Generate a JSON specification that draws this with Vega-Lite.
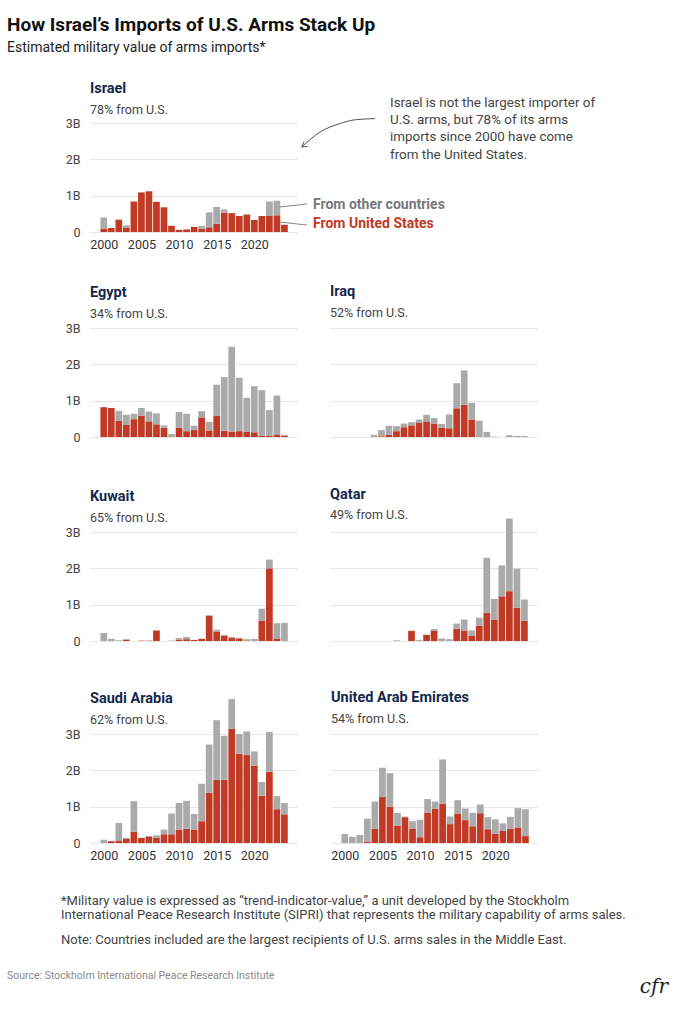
{
  "$schema": "https://vega.github.io/schema/vega-lite/v6.json",
  "padding": {"left": 7, "top": 15, "right": 5, "bottom": 5},
  "background": "white",
  "config": {
    "font": "Roboto",
    "view": {"stroke": null},
    "axis": {"labelFont": "Roboto"},
    "title": {"font": "Roboto", "subtitleFont": "Roboto"}
  },
  "datasets": {
    "arms": [
      {"country": "Israel", "year": 2000, "United States": 0.09, "Other countries": 0.31},
      {"country": "Israel", "year": 2001, "United States": 0.11, "Other countries": 0},
      {"country": "Israel", "year": 2002, "United States": 0.34, "Other countries": 0},
      {"country": "Israel", "year": 2003, "United States": 0.11, "Other countries": 0.07},
      {"country": "Israel", "year": 2004, "United States": 0.84, "Other countries": 0},
      {"country": "Israel", "year": 2005, "United States": 1.09, "Other countries": 0},
      {"country": "Israel", "year": 2006, "United States": 1.12, "Other countries": 0},
      {"country": "Israel", "year": 2007, "United States": 0.83, "Other countries": 0},
      {"country": "Israel", "year": 2008, "United States": 0.68, "Other countries": 0},
      {"country": "Israel", "year": 2009, "United States": 0.17, "Other countries": 0},
      {"country": "Israel", "year": 2010, "United States": 0.06, "Other countries": 0},
      {"country": "Israel", "year": 2011, "United States": 0.07, "Other countries": 0},
      {"country": "Israel", "year": 2012, "United States": 0.14, "Other countries": 0},
      {"country": "Israel", "year": 2013, "United States": 0.09, "Other countries": 0.08},
      {"country": "Israel", "year": 2014, "United States": 0.13, "Other countries": 0.41},
      {"country": "Israel", "year": 2015, "United States": 0.23, "Other countries": 0.46},
      {"country": "Israel", "year": 2016, "United States": 0.53, "Other countries": 0.09},
      {"country": "Israel", "year": 2017, "United States": 0.52, "Other countries": 0},
      {"country": "Israel", "year": 2018, "United States": 0.44, "Other countries": 0},
      {"country": "Israel", "year": 2019, "United States": 0.48, "Other countries": 0},
      {"country": "Israel", "year": 2020, "United States": 0.33, "Other countries": 0},
      {"country": "Israel", "year": 2021, "United States": 0.44, "Other countries": 0},
      {"country": "Israel", "year": 2022, "United States": 0.44, "Other countries": 0.40},
      {"country": "Israel", "year": 2023, "United States": 0.46, "Other countries": 0.40},
      {"country": "Israel", "year": 2024, "United States": 0.20, "Other countries": 0},

      {"country": "Egypt", "year": 2000, "United States": 0.82, "Other countries": 0},
      {"country": "Egypt", "year": 2001, "United States": 0.80, "Other countries": 0},
      {"country": "Egypt", "year": 2002, "United States": 0.45, "Other countries": 0.27},
      {"country": "Egypt", "year": 2003, "United States": 0.33, "Other countries": 0.28},
      {"country": "Egypt", "year": 2004, "United States": 0.49, "Other countries": 0.15},
      {"country": "Egypt", "year": 2005, "United States": 0.59, "Other countries": 0.21},
      {"country": "Egypt", "year": 2006, "United States": 0.43, "Other countries": 0.27},
      {"country": "Egypt", "year": 2007, "United States": 0.35, "Other countries": 0.30},
      {"country": "Egypt", "year": 2008, "United States": 0.25, "Other countries": 0.07},
      {"country": "Egypt", "year": 2009, "United States": 0, "Other countries": 0.08},
      {"country": "Egypt", "year": 2010, "United States": 0.25, "Other countries": 0.44},
      {"country": "Egypt", "year": 2011, "United States": 0.16, "Other countries": 0.48},
      {"country": "Egypt", "year": 2012, "United States": 0.19, "Other countries": 0.12},
      {"country": "Egypt", "year": 2013, "United States": 0.54, "Other countries": 0.17},
      {"country": "Egypt", "year": 2014, "United States": 0.18, "Other countries": 0.24},
      {"country": "Egypt", "year": 2015, "United States": 0.59, "Other countries": 0.85},
      {"country": "Egypt", "year": 2016, "United States": 0.17, "Other countries": 1.48},
      {"country": "Egypt", "year": 2017, "United States": 0.15, "Other countries": 2.33},
      {"country": "Egypt", "year": 2018, "United States": 0.16, "Other countries": 1.47},
      {"country": "Egypt", "year": 2019, "United States": 0.14, "Other countries": 0.94},
      {"country": "Egypt", "year": 2020, "United States": 0.13, "Other countries": 1.27},
      {"country": "Egypt", "year": 2021, "United States": 0.04, "Other countries": 1.25},
      {"country": "Egypt", "year": 2022, "United States": 0.04, "Other countries": 0.70},
      {"country": "Egypt", "year": 2023, "United States": 0.07, "Other countries": 1.07},
      {"country": "Egypt", "year": 2024, "United States": 0.04, "Other countries": 0.02},

      {"country": "Iraq", "year": 2004, "United States": 0, "Other countries": 0.06},
      {"country": "Iraq", "year": 2005, "United States": 0.02, "Other countries": 0.17},
      {"country": "Iraq", "year": 2006, "United States": 0.06, "Other countries": 0.25},
      {"country": "Iraq", "year": 2007, "United States": 0.16, "Other countries": 0.14},
      {"country": "Iraq", "year": 2008, "United States": 0.27, "Other countries": 0.10},
      {"country": "Iraq", "year": 2009, "United States": 0.32, "Other countries": 0.09},
      {"country": "Iraq", "year": 2010, "United States": 0.39, "Other countries": 0.09},
      {"country": "Iraq", "year": 2011, "United States": 0.43, "Other countries": 0.18},
      {"country": "Iraq", "year": 2012, "United States": 0.37, "Other countries": 0.15},
      {"country": "Iraq", "year": 2013, "United States": 0.26, "Other countries": 0.10},
      {"country": "Iraq", "year": 2014, "United States": 0.24, "Other countries": 0.38},
      {"country": "Iraq", "year": 2015, "United States": 0.79, "Other countries": 0.69},
      {"country": "Iraq", "year": 2016, "United States": 0.89, "Other countries": 0.94},
      {"country": "Iraq", "year": 2017, "United States": 0.48, "Other countries": 0.46},
      {"country": "Iraq", "year": 2018, "United States": 0, "Other countries": 0.45},
      {"country": "Iraq", "year": 2019, "United States": 0, "Other countries": 0.14},
      {"country": "Iraq", "year": 2020, "United States": 0, "Other countries": 0.01},
      {"country": "Iraq", "year": 2022, "United States": 0, "Other countries": 0.05},
      {"country": "Iraq", "year": 2023, "United States": 0, "Other countries": 0.03},
      {"country": "Iraq", "year": 2024, "United States": 0, "Other countries": 0.03},

      {"country": "Kuwait", "year": 2000, "United States": 0, "Other countries": 0.22},
      {"country": "Kuwait", "year": 2001, "United States": 0, "Other countries": 0.06},
      {"country": "Kuwait", "year": 2002, "United States": 0, "Other countries": 0.02},
      {"country": "Kuwait", "year": 2003, "United States": 0.04, "Other countries": 0},
      {"country": "Kuwait", "year": 2005, "United States": 0.01, "Other countries": 0},
      {"country": "Kuwait", "year": 2006, "United States": 0.01, "Other countries": 0},
      {"country": "Kuwait", "year": 2007, "United States": 0.29, "Other countries": 0},
      {"country": "Kuwait", "year": 2009, "United States": 0, "Other countries": 0.01},
      {"country": "Kuwait", "year": 2010, "United States": 0.04, "Other countries": 0.04},
      {"country": "Kuwait", "year": 2011, "United States": 0.05, "Other countries": 0.06},
      {"country": "Kuwait", "year": 2012, "United States": 0.03, "Other countries": 0},
      {"country": "Kuwait", "year": 2013, "United States": 0.06, "Other countries": 0},
      {"country": "Kuwait", "year": 2014, "United States": 0.70, "Other countries": 0},
      {"country": "Kuwait", "year": 2015, "United States": 0.26, "Other countries": 0.05},
      {"country": "Kuwait", "year": 2016, "United States": 0.15, "Other countries": 0.02},
      {"country": "Kuwait", "year": 2017, "United States": 0.08, "Other countries": 0.03},
      {"country": "Kuwait", "year": 2018, "United States": 0.07, "Other countries": 0.02},
      {"country": "Kuwait", "year": 2019, "United States": 0, "Other countries": 0.05},
      {"country": "Kuwait", "year": 2020, "United States": 0, "Other countries": 0.06},
      {"country": "Kuwait", "year": 2021, "United States": 0.56, "Other countries": 0.33},
      {"country": "Kuwait", "year": 2022, "United States": 2.00, "Other countries": 0.24},
      {"country": "Kuwait", "year": 2023, "United States": 0.07, "Other countries": 0.42},
      {"country": "Kuwait", "year": 2024, "United States": 0, "Other countries": 0.50},

      {"country": "Qatar", "year": 2007, "United States": 0, "Other countries": 0.02},
      {"country": "Qatar", "year": 2009, "United States": 0.28, "Other countries": 0},
      {"country": "Qatar", "year": 2010, "United States": 0, "Other countries": 0.03},
      {"country": "Qatar", "year": 2011, "United States": 0.17, "Other countries": 0},
      {"country": "Qatar", "year": 2012, "United States": 0.28, "Other countries": 0.05},
      {"country": "Qatar", "year": 2013, "United States": 0, "Other countries": 0.07},
      {"country": "Qatar", "year": 2014, "United States": 0, "Other countries": 0.05},
      {"country": "Qatar", "year": 2015, "United States": 0.34, "Other countries": 0.14},
      {"country": "Qatar", "year": 2016, "United States": 0.29, "Other countries": 0.30},
      {"country": "Qatar", "year": 2017, "United States": 0.14, "Other countries": 0.15},
      {"country": "Qatar", "year": 2018, "United States": 0.42, "Other countries": 0.22},
      {"country": "Qatar", "year": 2019, "United States": 0.78, "Other countries": 1.51},
      {"country": "Qatar", "year": 2020, "United States": 0.59, "Other countries": 0.57},
      {"country": "Qatar", "year": 2021, "United States": 1.23, "Other countries": 0.85},
      {"country": "Qatar", "year": 2022, "United States": 1.37, "Other countries": 2.00},
      {"country": "Qatar", "year": 2023, "United States": 0.91, "Other countries": 1.08},
      {"country": "Qatar", "year": 2024, "United States": 0.56, "Other countries": 0.58},

      {"country": "Saudi Arabia", "year": 2000, "United States": 0, "Other countries": 0.09},
      {"country": "Saudi Arabia", "year": 2001, "United States": 0.05, "Other countries": 0},
      {"country": "Saudi Arabia", "year": 2002, "United States": 0.07, "Other countries": 0.48},
      {"country": "Saudi Arabia", "year": 2003, "United States": 0.11, "Other countries": 0.03},
      {"country": "Saudi Arabia", "year": 2004, "United States": 0.31, "Other countries": 0.84},
      {"country": "Saudi Arabia", "year": 2005, "United States": 0.14, "Other countries": 0},
      {"country": "Saudi Arabia", "year": 2006, "United States": 0.18, "Other countries": 0.01},
      {"country": "Saudi Arabia", "year": 2007, "United States": 0.14, "Other countries": 0.07},
      {"country": "Saudi Arabia", "year": 2008, "United States": 0.24, "Other countries": 0.13},
      {"country": "Saudi Arabia", "year": 2009, "United States": 0.24, "Other countries": 0.57},
      {"country": "Saudi Arabia", "year": 2010, "United States": 0.36, "Other countries": 0.74},
      {"country": "Saudi Arabia", "year": 2011, "United States": 0.39, "Other countries": 0.77},
      {"country": "Saudi Arabia", "year": 2012, "United States": 0.37, "Other countries": 0.43},
      {"country": "Saudi Arabia", "year": 2013, "United States": 0.60, "Other countries": 1.03},
      {"country": "Saudi Arabia", "year": 2014, "United States": 1.38, "Other countries": 1.33},
      {"country": "Saudi Arabia", "year": 2015, "United States": 1.74, "Other countries": 1.64},
      {"country": "Saudi Arabia", "year": 2016, "United States": 1.74, "Other countries": 1.21},
      {"country": "Saudi Arabia", "year": 2017, "United States": 3.14, "Other countries": 0.82},
      {"country": "Saudi Arabia", "year": 2018, "United States": 2.46, "Other countries": 0.54},
      {"country": "Saudi Arabia", "year": 2019, "United States": 2.42, "Other countries": 0.65},
      {"country": "Saudi Arabia", "year": 2020, "United States": 2.13, "Other countries": 0.39},
      {"country": "Saudi Arabia", "year": 2021, "United States": 1.30, "Other countries": 0.38},
      {"country": "Saudi Arabia", "year": 2022, "United States": 1.96, "Other countries": 1.10},
      {"country": "Saudi Arabia", "year": 2023, "United States": 0.93, "Other countries": 0.36},
      {"country": "Saudi Arabia", "year": 2024, "United States": 0.79, "Other countries": 0.31},

      {"country": "United Arab Emirates", "year": 2000, "United States": 0, "Other countries": 0.25},
      {"country": "United Arab Emirates", "year": 2001, "United States": 0, "Other countries": 0.17},
      {"country": "United Arab Emirates", "year": 2002, "United States": 0, "Other countries": 0.22},
      {"country": "United Arab Emirates", "year": 2003, "United States": 0.04, "Other countries": 0.63},
      {"country": "United Arab Emirates", "year": 2004, "United States": 0.39, "Other countries": 0.75},
      {"country": "United Arab Emirates", "year": 2005, "United States": 1.27, "Other countries": 0.80},
      {"country": "United Arab Emirates", "year": 2006, "United States": 1.00, "Other countries": 0.92},
      {"country": "United Arab Emirates", "year": 2007, "United States": 0.48, "Other countries": 0.35},
      {"country": "United Arab Emirates", "year": 2008, "United States": 0.71, "Other countries": 0.02},
      {"country": "United Arab Emirates", "year": 2009, "United States": 0.40, "Other countries": 0.20},
      {"country": "United Arab Emirates", "year": 2010, "United States": 0.16, "Other countries": 0.48},
      {"country": "United Arab Emirates", "year": 2011, "United States": 0.84, "Other countries": 0.37},
      {"country": "United Arab Emirates", "year": 2012, "United States": 0.94, "Other countries": 0.20},
      {"country": "United Arab Emirates", "year": 2013, "United States": 1.08, "Other countries": 1.22},
      {"country": "United Arab Emirates", "year": 2014, "United States": 0.52, "Other countries": 0.21},
      {"country": "United Arab Emirates", "year": 2015, "United States": 0.80, "Other countries": 0.38},
      {"country": "United Arab Emirates", "year": 2016, "United States": 0.63, "Other countries": 0.32},
      {"country": "United Arab Emirates", "year": 2017, "United States": 0.46, "Other countries": 0.37},
      {"country": "United Arab Emirates", "year": 2018, "United States": 0.82, "Other countries": 0.24},
      {"country": "United Arab Emirates", "year": 2019, "United States": 0.38, "Other countries": 0.33},
      {"country": "United Arab Emirates", "year": 2020, "United States": 0.25, "Other countries": 0.40},
      {"country": "United Arab Emirates", "year": 2021, "United States": 0.33, "Other countries": 0.21},
      {"country": "United Arab Emirates", "year": 2022, "United States": 0.39, "Other countries": 0.33},
      {"country": "United Arab Emirates", "year": 2023, "United States": 0.43, "Other countries": 0.53},
      {"country": "United Arab Emirates", "year": 2024, "United States": 0.19, "Other countries": 0.74}
    ]
  },
  "title": {
    "text": "cfr", "orient": "bottom", "anchor": "end", "frame": "group",
    "font": "DejaVu Serif", "fontStyle": "italic", "fontWeight": "normal",
    "fontSize": 20, "color": "#222222", "offset": -5, "dx": 578
  },
  "vconcat": [
    {
      "title": {
        "text": "Source:  Stockholm International Peace Research Institute",
        "orient": "bottom", "anchor": "start", "frame": "group",
        "fontSize": 10.5, "fontWeight": "normal", "color": "#8a8a8a",
        "offset": 24, "dx": -83
      },
      "vconcat": [
        {
          "title": {
            "text": "How Israel’s Imports of U.S. Arms Stack Up",
            "subtitle": "Estimated military value of arms imports*",
            "anchor": "start", "frame": "group",
            "fontSize": 19, "fontWeight": "bold", "color": "#111111",
            "subtitleFontSize": 14, "subtitleColor": "#222222", "subtitlePadding": 6.5,
            "offset": 26, "dx": -83
          },
          "spacing": 33,
          "vconcat": [
            {
              "title": {
                "text": "Israel", "subtitle": "78% from U.S.",
                "anchor": "start", "frame": "group",
                "fontSize": 14.5, "fontWeight": "bold", "color": "#14284b",
                "subtitleFontSize": 12.5, "subtitleColor": "#444444", "subtitlePadding": 7, "offset": -21
              },
              "width": 207,
              "height": 109,
              "encoding": {
                "x": {
                  "field": "year", "type": "quantitative", "title": null,
                  "scale": {"domain": [1998.17, 2025.67], "nice": false, "zero": false, "padding": 0},
                  "axis": {"values": [2000, 2005, 2010, 2015, 2020], "format": "d", "ticks": false, "domain": false, "grid": false, "labelFontSize": 12.5, "labelColor": "#333333", "labelPadding": 6}
                },
                "y": {
                  "field": "value", "type": "quantitative", "stack": null, "title": null,
                  "scale": {"domain": [0, 3], "nice": false},
                  "axis": {"values": [0, 1, 2, 3], "labelExpr": "datum.value == 0 ? '0' : datum.value + 'B'", "ticks": false, "domain": false, "gridColor": "#e6e6e6", "labelPadding": 10, "labelFontSize": 12.5, "labelColor": "#444444"}
                }
              },
              "layer": [
                {
                  "data": {"name": "arms"},
                  "transform": [
                    {"filter": "datum.country === 'Israel'"},
                    {"fold": ["United States", "Other countries"], "as": ["source", "value"]}
                  ],
                  "mark": {"type": "bar", "width": 6.7},
                  "encoding": {
                    "y": {
                      "field": "value", "type": "quantitative", "stack": "zero", "title": null,
                      "scale": {"domain": [0, 3], "nice": false},
                      "axis": {"values": [0, 1, 2, 3], "labelExpr": "datum.value == 0 ? '0' : datum.value + 'B'", "ticks": false, "domain": false, "gridColor": "#e6e6e6", "labelPadding": 10, "labelFontSize": 12.5, "labelColor": "#444444"}
                    },
                    "color": {"field": "source", "type": "nominal", "legend": null, "scale": {"domain": ["United States", "Other countries"], "range": ["#c13a26", "#aaaaaa"]}},
                    "order": {"field": "source", "sort": "descending"}
                  }
                },
                {
                  "data": {"values": [
                    {"source": "Other countries", "year": 2023.41, "value": 0.69},
                    {"source": "Other countries", "year": 2027.0, "value": 0.77},
                    {"source": "United States", "year": 2023.41, "value": 0.275},
                    {"source": "United States", "year": 2027.0, "value": 0.19}
                  ]},
                  "mark": {"type": "line", "color": "#666666", "strokeWidth": 0.8},
                  "encoding": {
                    "detail": {"field": "source"}
                  }
                },
                {
                  "data": {"values": [
                    {"source": "Other countries", "label": "From other countries", "year": 2027.8, "value": 0.75},
                    {"source": "United States", "label": "From United States", "year": 2027.8, "value": 0.225}
                  ]},
                  "mark": {"type": "text", "align": "left", "baseline": "middle", "fontSize": 14, "fontWeight": "bold"},
                  "encoding": {
                    "text": {"field": "label"},
                    "color": {"condition": {"test": "datum.source === 'United States'", "value": "#c13a26"}, "value": "#777777"}
                  }
                },
                {
                  "data": {"values": [
                    {"note": "Israel is not the largest importer of\nU.S. arms, but 78% of its arms\nimports since 2000 have come\nfrom the United States.", "year": 2038.03, "value": 3.44}
                  ]},
                  "mark": {"type": "text", "align": "left", "baseline": "alphabetic", "lineBreak": "\n", "fontSize": 13.4, "lineHeight": 17.2, "color": "#444444"},
                  "encoding": {
                    "text": {"field": "note"}
                  }
                },
                {
                  "data": {"values": [
                    {"order": 1, "year": 2036.03, "value": 3.121},
                    {"order": 2, "year": 2033.38, "value": 3.088},
                    {"order": 3, "year": 2031.38, "value": 2.984},
                    {"order": 4, "year": 2028.73, "value": 2.752},
                    {"order": 5, "year": 2026.30, "value": 2.340}
                  ]},
                  "mark": {"type": "line", "color": "#555555", "strokeWidth": 1, "interpolate": "monotone"},
                  "encoding": {
                    "order": {"field": "order"}
                  }
                },
                {
                  "data": {"values": [
                    {"order": 1, "year": 2026.61, "value": 2.49},
                    {"order": 2, "year": 2026.30, "value": 2.340},
                    {"order": 3, "year": 2027.09, "value": 2.356}
                  ]},
                  "mark": {"type": "line", "color": "#555555", "strokeWidth": 1},
                  "encoding": {
                    "order": {"field": "order"}
                  }
                }
              ]
            },
            {
              "title": {
                "text": [
                  "*Military value is expressed as “trend-indicator-value,” a unit developed by the Stockholm",
                  "International Peace Research Institute (SIPRI) that represents the military capability of arms sales."
                ],
                "subtitle": "Note: Countries included are the largest recipients of U.S. arms sales in the Middle East.",
                "orient": "bottom", "anchor": "start", "frame": "group",
                "fontSize": 13, "fontWeight": "normal", "color": "#444444", "lineHeight": 14,
                "subtitleFontSize": 13, "subtitleColor": "#444444", "subtitlePadding": 12,
                "offset": 33.5, "dx": -29
              },
              "spacing": 42,
              "vconcat": [
                {
                  "spacing": 33,
                  "hconcat": [
                    {
                      "title": {"text": "Egypt", "subtitle": "34% from U.S.", "anchor": "start", "frame": "group", "fontSize": 14.5, "fontWeight": "bold", "color": "#14284b", "subtitleFontSize": 12.5, "subtitleColor": "#444444", "subtitlePadding": 7, "offset": 1},
                      "width": 207, "height": 109,
                      "data": {"name": "arms"},
                      "transform": [{"filter": "datum.country === 'Egypt'"}, {"fold": ["United States", "Other countries"], "as": ["source", "value"]}],
                      "mark": {"type": "bar", "width": 6.7},
                      "encoding": {
                        "x": {"field": "year", "type": "quantitative", "title": null, "scale": {"domain": [1998.17, 2025.67], "nice": false, "zero": false, "padding": 0}, "axis": null},
                        "y": {"field": "value", "type": "quantitative", "stack": "zero", "title": null, "scale": {"domain": [0, 3], "nice": false},
                          "axis": {"values": [0, 1, 2, 3], "labelExpr": "datum.value == 0 ? '0' : datum.value + 'B'", "ticks": false, "domain": false, "gridColor": "#e6e6e6", "labelPadding": 10, "labelFontSize": 12.5, "labelColor": "#444444"}},
                        "color": {"field": "source", "type": "nominal", "legend": null, "scale": {"domain": ["United States", "Other countries"], "range": ["#c13a26", "#aaaaaa"]}},
                        "order": {"field": "source", "sort": "descending"}
                      }
                    },
                    {
                      "title": {"text": "Iraq", "subtitle": "52% from U.S.", "anchor": "start", "frame": "group", "fontSize": 14.5, "fontWeight": "bold", "color": "#14284b", "subtitleFontSize": 12.5, "subtitleColor": "#444444", "subtitlePadding": 7, "offset": 8},
                      "width": 207, "height": 109,
                      "data": {"name": "arms"},
                      "transform": [{"filter": "datum.country === 'Iraq'"}, {"fold": ["United States", "Other countries"], "as": ["source", "value"]}],
                      "mark": {"type": "bar", "width": 6.7},
                      "encoding": {
                        "x": {"field": "year", "type": "quantitative", "title": null, "scale": {"domain": [1998.17, 2025.67], "nice": false, "zero": false, "padding": 0}, "axis": null},
                        "y": {"field": "value", "type": "quantitative", "stack": "zero", "title": null, "scale": {"domain": [0, 3], "nice": false},
                          "axis": {"values": [0, 1, 2, 3], "labels": false, "ticks": false, "domain": false, "gridColor": "#e6e6e6"}},
                        "color": {"field": "source", "type": "nominal", "legend": null, "scale": {"domain": ["United States", "Other countries"], "range": ["#c13a26", "#aaaaaa"]}},
                        "order": {"field": "source", "sort": "descending"}
                      }
                    }
                  ]
                },
                {
                  "spacing": 33,
                  "hconcat": [
                    {
                      "title": {"text": "Kuwait", "subtitle": "65% from U.S.", "anchor": "start", "frame": "group", "fontSize": 14.5, "fontWeight": "bold", "color": "#14284b", "subtitleFontSize": 12.5, "subtitleColor": "#444444", "subtitlePadding": 7, "offset": 1},
                      "width": 207, "height": 109,
                      "data": {"name": "arms"},
                      "transform": [{"filter": "datum.country === 'Kuwait'"}, {"fold": ["United States", "Other countries"], "as": ["source", "value"]}],
                      "mark": {"type": "bar", "width": 6.7},
                      "encoding": {
                        "x": {"field": "year", "type": "quantitative", "title": null, "scale": {"domain": [1998.17, 2025.67], "nice": false, "zero": false, "padding": 0}, "axis": null},
                        "y": {"field": "value", "type": "quantitative", "stack": "zero", "title": null, "scale": {"domain": [0, 3], "nice": false},
                          "axis": {"values": [0, 1, 2, 3], "labelExpr": "datum.value == 0 ? '0' : datum.value + 'B'", "ticks": false, "domain": false, "gridColor": "#e6e6e6", "labelPadding": 10, "labelFontSize": 12.5, "labelColor": "#444444"}},
                        "color": {"field": "source", "type": "nominal", "legend": null, "scale": {"domain": ["United States", "Other countries"], "range": ["#c13a26", "#aaaaaa"]}},
                        "order": {"field": "source", "sort": "descending"}
                      }
                    },
                    {
                      "title": {"text": "Qatar", "subtitle": "49% from U.S.", "anchor": "start", "frame": "group", "fontSize": 14.5, "fontWeight": "bold", "color": "#14284b", "subtitleFontSize": 12.5, "subtitleColor": "#444444", "subtitlePadding": 7, "offset": -4},
                      "width": 207, "height": 109,
                      "data": {"name": "arms"},
                      "transform": [{"filter": "datum.country === 'Qatar'"}, {"fold": ["United States", "Other countries"], "as": ["source", "value"]}],
                      "mark": {"type": "bar", "width": 6.7},
                      "encoding": {
                        "x": {"field": "year", "type": "quantitative", "title": null, "scale": {"domain": [1998.17, 2025.67], "nice": false, "zero": false, "padding": 0}, "axis": null},
                        "y": {"field": "value", "type": "quantitative", "stack": "zero", "title": null, "scale": {"domain": [0, 3], "nice": false},
                          "axis": {"values": [0, 1, 2, 3], "labels": false, "ticks": false, "domain": false, "gridColor": "#e6e6e6"}},
                        "color": {"field": "source", "type": "nominal", "legend": null, "scale": {"domain": ["United States", "Other countries"], "range": ["#c13a26", "#aaaaaa"]}},
                        "order": {"field": "source", "sort": "descending"}
                      }
                    }
                  ]
                },
                {
                  "spacing": 33,
                  "hconcat": [
                    {
                      "title": {"text": "Saudi Arabia", "subtitle": "62% from U.S.", "anchor": "start", "frame": "group", "fontSize": 14.5, "fontWeight": "bold", "color": "#14284b", "subtitleFontSize": 12.5, "subtitleColor": "#444444", "subtitlePadding": 7, "offset": -28},
                      "width": 207, "height": 109,
                      "data": {"name": "arms"},
                      "transform": [{"filter": "datum.country === 'Saudi Arabia'"}, {"fold": ["United States", "Other countries"], "as": ["source", "value"]}],
                      "mark": {"type": "bar", "width": 6.7},
                      "encoding": {
                        "x": {"field": "year", "type": "quantitative", "title": null, "scale": {"domain": [1998.17, 2025.67], "nice": false, "zero": false, "padding": 0},
                          "axis": {"values": [2000, 2005, 2010, 2015, 2020], "format": "d", "ticks": false, "domain": false, "grid": false, "labelFontSize": 12.5, "labelColor": "#333333", "labelPadding": 6}},
                        "y": {"field": "value", "type": "quantitative", "stack": "zero", "title": null, "scale": {"domain": [0, 3], "nice": false},
                          "axis": {"values": [0, 1, 2, 3], "labelExpr": "datum.value == 0 ? '0' : datum.value + 'B'", "ticks": false, "domain": false, "gridColor": "#e6e6e6", "labelPadding": 10, "labelFontSize": 12.5, "labelColor": "#444444"}},
                        "color": {"field": "source", "type": "nominal", "legend": null, "scale": {"domain": ["United States", "Other countries"], "range": ["#c13a26", "#aaaaaa"]}},
                        "order": {"field": "source", "sort": "descending"}
                      }
                    },
                    {
                      "title": {"text": "United Arab Emirates", "subtitle": "54% from U.S.", "anchor": "start", "frame": "group", "fontSize": 14.5, "fontWeight": "bold", "color": "#14284b", "subtitleFontSize": 12.5, "subtitleColor": "#444444", "subtitlePadding": 7, "offset": 8},
                      "width": 207, "height": 109,
                      "data": {"name": "arms"},
                      "transform": [{"filter": "datum.country === 'United Arab Emirates'"}, {"fold": ["United States", "Other countries"], "as": ["source", "value"]}],
                      "mark": {"type": "bar", "width": 6.7},
                      "encoding": {
                        "x": {"field": "year", "type": "quantitative", "title": null, "scale": {"domain": [1998.17, 2025.67], "nice": false, "zero": false, "padding": 0},
                          "axis": {"values": [2000, 2005, 2010, 2015, 2020], "format": "d", "ticks": false, "domain": false, "grid": false, "labelFontSize": 12.5, "labelColor": "#333333", "labelPadding": 6}},
                        "y": {"field": "value", "type": "quantitative", "stack": "zero", "title": null, "scale": {"domain": [0, 3], "nice": false},
                          "axis": {"values": [0, 1, 2, 3], "labels": false, "ticks": false, "domain": false, "gridColor": "#e6e6e6"}},
                        "color": {"field": "source", "type": "nominal", "legend": null, "scale": {"domain": ["United States", "Other countries"], "range": ["#c13a26", "#aaaaaa"]}},
                        "order": {"field": "source", "sort": "descending"}
                      }
                    }
                  ]
                }
              ]
            }
          ]
        }
      ]
    }
  ]
}
